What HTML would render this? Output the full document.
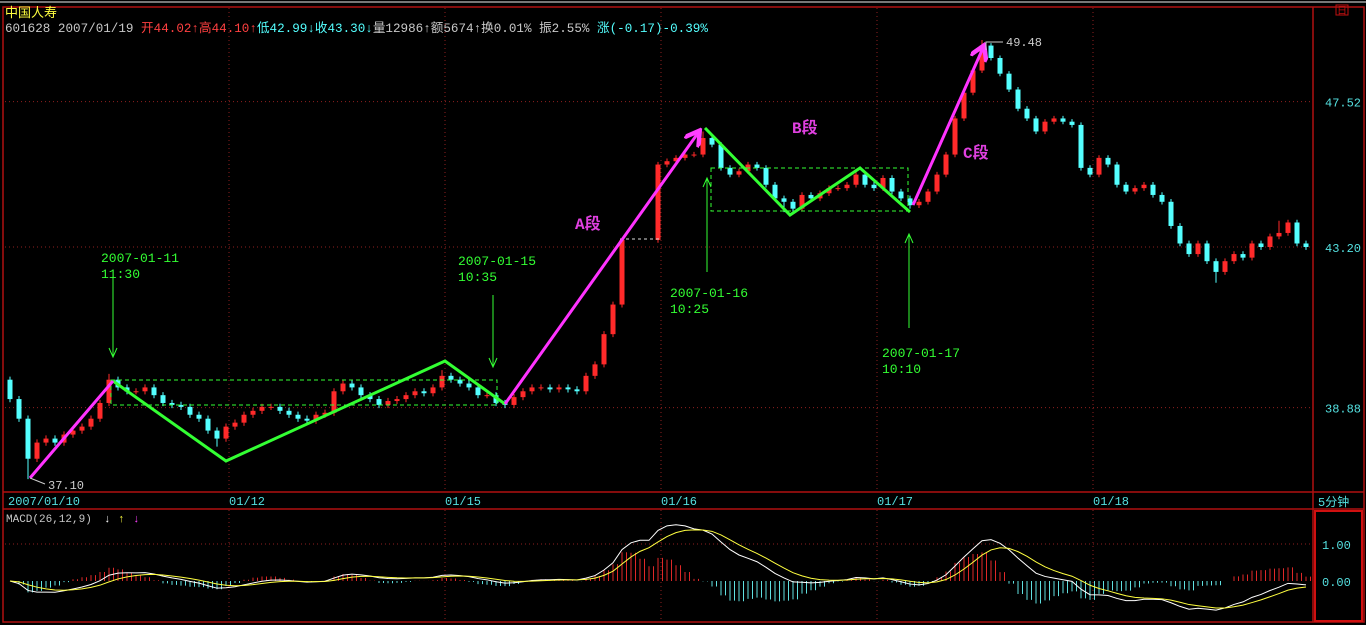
<!DOCTYPE html>
<html><head><meta charset="utf-8">
<style>
html,body{margin:0;padding:0;background:#000;width:1366px;height:625px;overflow:hidden}
svg{display:block}
text{font-family:"Liberation Mono","Noto Sans CJK SC",monospace}
</style></head>
<body>
<svg id="c" width="1366" height="625" xmlns="http://www.w3.org/2000/svg">
<rect x="0" y="0" width="1366" height="625" fill="#000"/>
<line x1="0" y1="2" x2="1366" y2="2" stroke="#777" stroke-width="2"/>
<rect x="3" y="7" width="1361" height="615" fill="none" stroke="#b01010" stroke-width="1.5"/>
<line x1="1313" y1="7" x2="1313" y2="622" stroke="#b01010" stroke-width="1.5"/>
<line x1="3" y1="492" x2="1364" y2="492" stroke="#b01010" stroke-width="1.5"/>
<line x1="3" y1="509" x2="1364" y2="509" stroke="#b01010" stroke-width="1.5"/>
<rect x="1315" y="511" width="47" height="110" fill="none" stroke="#d01010" stroke-width="2"/>
<g><rect x="1336" y="5" width="12" height="10" fill="none" stroke="#c01010"/><text x="1337" y="14" font-size="10" fill="#c01010">日</text></g>
<text x="5" y="17" font-size="13" fill="#ffff40">中国人寿</text>
<text x="5" y="32" font-size="12.6"><tspan fill="#c8c8c8">601628 2007/01/19 </tspan><tspan fill="#ff4040">开44.02↑高44.10↑</tspan><tspan fill="#54ffff">低42.99↓收43.30↓</tspan><tspan fill="#c8c8c8">量12986↑额5674↑换0.01% 振2.55% </tspan><tspan fill="#54ffff">涨(-0.17)-0.39%</tspan></text>
<g id="grid"></g>
<g id="candles"></g>
<g id="macd"></g>
<g id="ann"></g>
</svg>
<script>
const closes=[39.1,38.6,37.6,38.0,38.1,38.0,38.2,38.3,38.4,38.6,39.0,39.6,39.4,39.3,39.3,39.4,39.2,39.0,38.95,38.9,38.7,38.6,38.3,38.1,38.4,38.5,38.7,38.8,38.9,38.9,38.8,38.7,38.6,38.55,38.7,38.75,39.3,39.5,39.4,39.2,39.1,38.95,39.05,39.1,39.2,39.3,39.25,39.4,39.7,39.6,39.5,39.4,39.2,39.2,39.0,38.95,39.15,39.3,39.4,39.4,39.35,39.4,39.35,39.3,39.7,40.0,40.8,41.6,43.4,null,null,null,45.6,45.7,45.8,45.9,45.9,46.4,46.2,45.5,45.3,45.4,45.6,45.5,45.0,44.6,44.5,44.3,44.7,44.6,44.75,44.9,44.9,45.0,45.3,45.0,44.9,45.2,44.8,44.6,44.4,44.5,44.8,45.3,45.9,47.0,47.8,48.5,49.3,48.9,48.4,47.9,47.3,47.0,46.6,46.9,47.0,46.9,46.8,45.5,45.3,45.8,45.6,45.0,44.8,44.9,45.0,44.7,44.5,43.8,43.3,43.0,43.3,42.8,42.5,42.8,43.0,42.9,43.3,43.2,43.5,43.6,43.9,43.3,43.2];
const lows=[[2,37.1],[23,37.9],[86,44.2],[100,44.3],[134,42.2]];
const highs=[[11,39.75],[48,39.85],[68,43.45],[77,46.6],[108,49.48],[141,43.95]];
const priceTicks=[47.52,43.20,38.88];
const macdTicks=[1.00,0.00];
const dayLabels=["2007/01/10","01/12","01/15","01/16","01/17","01/18"];
const dayBars=[0,24,48,72,96,120];
const NS="http://www.w3.org/2000/svg";
function mk(tag,attrs,parent,txt){const e=document.createElementNS(NS,tag);for(const k in attrs)e.setAttribute(k,attrs[k]);if(txt!==undefined)e.textContent=txt;parent.appendChild(e);return e;}
const X=i=>10+9*i;
const Y=p=>247-1525*Math.log(p/43.2);
const MY=v=>581-37*v;
const grid=document.getElementById('grid');
priceTicks.forEach(p=>{
  const l=mk('line',{x1:5,x2:1313,y1:Y(p),y2:Y(p),stroke:'#902020','stroke-dasharray':'1,3'},grid);
  
  
  const t=mk('text',{x:1325,y:Y(p)+5,'font-size':12,fill:'#54e0e0'},grid,p.toFixed(2));
  
  
});
dayBars.forEach((b,k)=>{
  const x=k===0?8:X(b)+3;
  if(k>0){mk('line',{x1:x,x2:x,y1:8,y2:492,stroke:'#902020','stroke-dasharray':'1,3'},grid);
  mk('line',{x1:x,x2:x,y1:510,y2:621,stroke:'#902020','stroke-dasharray':'1,3'},grid);}
  const t=mk('text',{x:x,y:505,'font-size':12,fill:'#54e0e0'},grid,dayLabels[k]);
  
  
});
mk('text',{x:1318,y:506,'font-size':12,fill:'#54e0e0'},grid,'5分钟');
mk('line',{x1:5,x2:1313,y1:MY(1),y2:MY(1),stroke:'#902020','stroke-dasharray':'1,3'},grid);
macdTicks.forEach(v=>{
  const t=mk('text',{x:1322,y:MY(v)+5,'font-size':12,fill:'#54e0e0'},grid,v.toFixed(2));
  
  
});
const cg=document.getElementById('candles');
let prev=39.6;
closes.forEach((c,i)=>{
  if(c===null)return;
  const o=prev;prev=c;
  let hi=Math.max(o,c)+0.08,lo=Math.min(o,c)-0.08;
  highs.forEach(h=>{if(h[0]===i)hi=h[1];});
  lows.forEach(h=>{if(h[0]===i)lo=h[1];});
  const col=c>=o?'#ff2a2a':'#54ffff';
  const x=X(i);
  const g=mk('g',{},cg);
  
  
  mk('line',{x1:x,x2:x,y1:Y(hi),y2:Y(lo),stroke:col,'stroke-width':1},g);
  const y1=Y(Math.max(o,c)),y2=Y(Math.min(o,c));
  mk('rect',{x:x-2.5,y:y1,width:5,height:Math.max(1,y2-y1),fill:col},g);
});
const mg=document.getElementById('macd');
function ema(arr,n){const a=2/(n+1);let e=null;return arr.map(v=>{if(v===null)return e;e=e===null?v:e+a*(v-e);return e;});}
const filled=[];let last=closes[0];closes.forEach(v=>{if(v!==null)last=v;filled.push(last);});
const e1=ema(filled,6),e2=ema(filled,13);
const dif=e1.map((v,i)=>v-e2[i]);
const dea=ema(dif,5);
dif.forEach((d,i)=>{
  const h=2*(d-dea[i]);
  [0,4.5].forEach(off=>{
    const l=mk('line',{x1:X(i)+off,x2:X(i)+off,y1:MY(0),y2:MY(h),stroke:h>=0?'#e02828':'#60e0e0','stroke-width':1},mg);
    
    
  });
});
const difPath=mk('polyline',{points:dif.map((v,i)=>X(i)+','+MY(v)).join(' '),fill:'none',stroke:'#fff','stroke-width':1},mg);


const deaPath=mk('polyline',{points:dea.map((v,i)=>X(i)+','+MY(v)).join(' '),fill:'none',stroke:'#ffff40','stroke-width':1},mg);


mk('text',{x:6,y:522,'font-size':11,fill:'#c8c8c8'},mg,'MACD(26,12,9)');
mk('text',{x:104,y:522,'font-size':11,fill:'#fff'},mg,'↓');
mk('text',{x:118,y:522,'font-size':11,fill:'#ffff40'},mg,'↑');
mk('text',{x:133,y:522,'font-size':11,fill:'#ff40ff'},mg,'↓');
</script>
<svg style="position:absolute;left:0;top:0" width="1366" height="625" xmlns="http://www.w3.org/2000/svg">
<defs><marker id="ah" markerWidth="6" markerHeight="6" refX="4" refY="3" orient="auto"><path d="M0,0 L5,3 L0,6" fill="none" stroke="#ff40ff" stroke-width="1.5"/></marker></defs>
<g fill="none" stroke="#33ff33" stroke-dasharray="4,3" stroke-width="1">
<rect x="111" y="380" width="386" height="25"/>
<rect x="711" y="168" width="197" height="43"/>
</g>
<line x1="620" y1="239" x2="660" y2="239" stroke="#ddd" stroke-dasharray="3,3"/>
<polyline points="113,381 226,461 445,361 505,404" fill="none" stroke="#33ff33" stroke-width="3"/>
<polyline points="705,128 790,215 860,168 910,212" fill="none" stroke="#33ff33" stroke-width="3"/>
<line x1="30" y1="478" x2="113" y2="381" stroke="#ff33ff" stroke-width="3"/>
<line x1="505" y1="404" x2="698" y2="133" stroke="#ff33ff" stroke-width="3" marker-end="url(#ah)"/>
<line x1="913" y1="205" x2="983" y2="48" stroke="#ff33ff" stroke-width="3" marker-end="url(#ah)"/>
<g stroke="#33ff33" stroke-width="1" fill="none">
<line x1="113" y1="275" x2="113" y2="357"/><polyline points="109,348 113,357 117,348"/>
<line x1="493" y1="295" x2="493" y2="367"/><polyline points="489,358 493,367 497,358"/>
<line x1="707" y1="272" x2="707" y2="178"/><polyline points="703,187 707,178 711,187"/>
<line x1="909" y1="328" x2="909" y2="234"/><polyline points="905,243 909,234 913,243"/>
</g>
<g font-size="13" fill="#33ff33" font-family="Liberation Mono, monospace">
<text x="101" y="262">2007-01-11</text><text x="101" y="278">11:30</text>
<text x="458" y="265">2007-01-15</text><text x="458" y="281">10:35</text>
<text x="670" y="297">2007-01-16</text><text x="670" y="313">10:25</text>
<text x="882" y="357">2007-01-17</text><text x="882" y="373">10:10</text>
</g>
<g font-size="16" font-weight="bold" fill="#e040e0" font-family="Liberation Serif, Noto Serif CJK SC, serif">
<text x="575" y="229">A段</text>
<text x="792" y="133">B段</text>
<text x="963" y="158">C段</text>
</g>
<polyline points="30,478 45,484" stroke="#ccc" fill="none"/>
<text x="48" y="489" font-size="12" fill="#ccc" font-family="Liberation Mono, monospace">37.10</text>
<polyline points="986,50 986,42 1003,42" stroke="#ccc" fill="none"/>
<text x="1006" y="46" font-size="12" fill="#ccc" font-family="Liberation Mono, monospace">49.48</text>
</svg>
</body></html>
